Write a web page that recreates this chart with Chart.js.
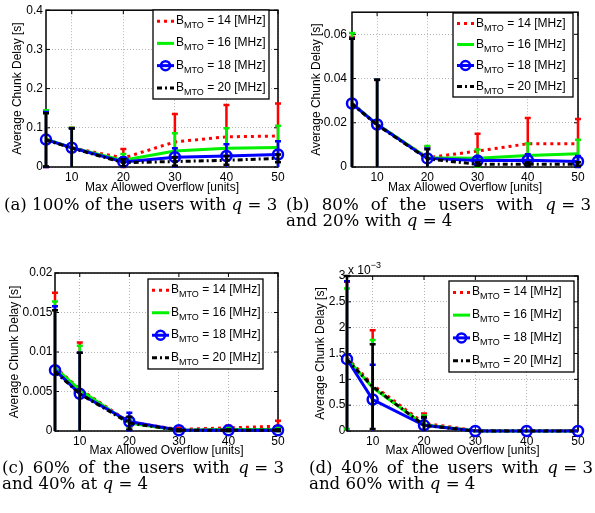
<!DOCTYPE html>
<html>
<head>
<meta charset="utf-8">
<script src="https://cdn.jsdelivr.net/npm/chart.js@4.4.1/dist/chart.umd.min.js"></script>
<style>
html, body { margin: 0; padding: 0; background: #fff; }
body { position: relative; width: 595px; height: 513px; overflow: hidden; }
canvas { position: absolute; }
.cap { position: absolute; font-family: "DejaVu Serif", serif; font-size: 16.6px; line-height: 16px; color: #000; white-space: nowrap; }
.cap .l1 { text-align: justify; text-align-last: justify; }
.m { display: inline-block; }
</style>
</head>
<body>
<canvas id="chartA" width="297" height="196" style="left:0;top:0"></canvas>
<canvas id="chartB" width="298" height="196" style="left:297px;top:0"></canvas>
<canvas id="chartC" width="297" height="201" style="left:0;top:258px"></canvas>
<canvas id="chartD" width="298" height="201" style="left:297px;top:258px"></canvas>

<div class="cap" style="left:4px;top:197px">(a) 100% of the users with <span class="m"><i>q</i> = 3</span></div>
<div class="cap" style="left:286px;top:197px;width:305px">
  <div class="l1">(b) 80% of the users with <span class="m"><i>q</i> = 3</span></div>
  <div>and 20% with <span class="m"><i>q</i> = 4</span></div>
</div>
<div class="cap" style="left:2px;top:460px;width:282px">
  <div class="l1">(c) 60% of the users with <span class="m"><i>q</i> = 3</span></div>
  <div>and 40% at <span class="m"><i>q</i> = 4</span></div>
</div>
<div class="cap" style="left:309px;top:460px;width:284px">
  <div class="l1">(d) 40% of the users with <span class="m"><i>q</i> = 3</span></div>
  <div>and 60% with <span class="m"><i>q</i> = 4</span></div>
</div>

<script>
const overflowUnits = [5, 10, 20, 30, 40, 50];
const xTickValues = [10, 20, 30, 40, 50];
const bandwidths = [14, 16, 18, 20];

// (a) 100% of the users with q = 3   (rows: 14, 16, 18, 20 MHz)
const delayA = [
  [0.071, 0.049, 0.023, 0.064, 0.077, 0.079],
  [0.071, 0.049, 0.017, 0.041, 0.048, 0.050],
  [0.070, 0.049, 0.013, 0.025, 0.028, 0.032],
  [0.069, 0.048, 0.011, 0.014, 0.017, 0.022]
];
const errA = [
  [0.071, 0.051, 0.023, 0.071, 0.081, 0.083],
  [0.074, 0.051, 0.016, 0.045, 0.051, 0.055],
  [0.070, 0.050, 0.012, 0.023, 0.030, 0.034],
  [0.068, 0.050, 0.009, 0.011, 0.011, 0.010]
];
const yTicksA = [0, 0.1, 0.2, 0.3, 0.4];

// (b) 80% q = 3, 20% q = 4
const delayB = [
  [0.0288, 0.0193, 0.0042, 0.0072, 0.0105, 0.0105],
  [0.0288, 0.0193, 0.0042, 0.0040, 0.0052, 0.0060],
  [0.0287, 0.0192, 0.0039, 0.0029, 0.0031, 0.0025],
  [0.0285, 0.0190, 0.0037, 0.0012, 0.0012, 0.0013]
];
const errB = [
  [0.0300, 0.0200, 0.0050, 0.0078, 0.0117, 0.0112],
  [0.0318, 0.0202, 0.0053, 0.0039, 0.0054, 0.0063],
  [0.0293, 0.0203, 0.0045, 0.0016, 0.0027, 0.0025],
  [0.0295, 0.0205, 0.0043, 0.0008, 0.0008, 0.0008]
];
const yTicksB = [0, 0.02, 0.04, 0.06];

// (c) 60% q = 3, 40% q = 4
const delayC = [
  [0.0081, 0.0053, 0.0011, 0.0002, 0.0004, 0.0006],
  [0.0080, 0.0052, 0.0010, 0.0001, 0.0002, 0.0002],
  [0.0077, 0.0047, 0.0012, 0.0001, 0.0001, 0.0001],
  [0.0075, 0.0047, 0.0010, 0.0001, 0.0001, 0.0001]
];
const errC = [
  [0.0094, 0.0059, 0.0006, 0.0002, 0.0003, 0.0007],
  [0.0084, 0.0056, 0.0005, 0.0001, 0.0002, 0.0002],
  [0.0081, 0.0052, 0.0011, 0.0001, 0.0001, 0.0001],
  [0.0078, 0.0052, 0.0008, 0.0001, 0.0001, 0.0001]
];
const yTicksC = [0, 0.005, 0.01, 0.015, 0.02];

// (d) 40% q = 3, 60% q = 4
const delayD = [
  [1.42e-3, 0.89e-3, 0.15e-3, 0.01e-3, 0.01e-3, 0.01e-3],
  [1.40e-3, 0.84e-3, 0.12e-3, 0, 0, 0],
  [1.39e-3, 0.61e-3, 0.11e-3, 0, 0, 0],
  [1.38e-3, 0.86e-3, 0.11e-3, 0, 0, 0]
];
const errD = [
  [1.47e-3, 1.06e-3, 0.19e-3, 0, 0, 0],
  [1.36e-3, 0.92e-3, 0.18e-3, 0, 0, 0],
  [1.51e-3, 0.67e-3, 0.14e-3, 0, 0, 0],
  [1.62e-3, 0.82e-3, 0.16e-3, 0, 0, 0]
];
const yTicksD = [0, 0.5e-3, 1e-3, 1.5e-3, 2e-3, 2.5e-3, 3e-3];

const SERIES_STYLE = [
  { color: '#ff0000', dash: [3, 4], marker: false },
  { color: '#00f000', dash: [], marker: false },
  { color: '#0000ff', dash: [], marker: true },
  { color: '#000000', dash: [5, 3, 2, 3], marker: false }
];
const FONT = { family: '"Liberation Sans", Arial, sans-serif', size: 12 };

// matlab style error bars, drawn just before each series so later series cover earlier ones
const errorBarPlugin = {
  id: 'errorBars',
  beforeDatasetDraw(chart, args) {
    const ds = chart.data.datasets[args.index];
    if (!ds.errors) return;
    const { ctx, scales: { x, y } } = chart;
    ctx.save();
    ctx.strokeStyle = ds.borderColor;
    ctx.lineWidth = 2.5;
    ctx.beginPath();
    ds.data.forEach((p, i) => {
      const e = ds.errors[i];
      if (!e) return;
      const hi = p.y + e, lo = p.y - e;
      const px = x.getPixelForValue(p.x);
      const top = y.getPixelForValue(Math.min(hi, y.max));
      const bot = y.getPixelForValue(Math.max(lo, y.min));
      ctx.moveTo(px, top); ctx.lineTo(px, bot);
      if (hi <= y.max) { ctx.moveTo(px - 3, top); ctx.lineTo(px + 3, top); }
      if (lo >= y.min) { ctx.moveTo(px - 3, bot); ctx.lineTo(px + 3, bot); }
    });
    ctx.stroke();
    ctx.restore();
  }
};

// axes box with inward ticks, under the data
const framePlugin = {
  id: 'frame',
  beforeDatasetsDraw(chart) {
    const { ctx, chartArea: a, scales: { x, y } } = chart;
    ctx.save();
    ctx.strokeStyle = '#000';
    ctx.lineWidth = 1;
    ctx.beginPath();
    x.ticks.forEach(t => {
      const px = x.getPixelForValue(t.value);
      ctx.moveTo(px, a.bottom); ctx.lineTo(px, a.bottom - 4);
      ctx.moveTo(px, a.top); ctx.lineTo(px, a.top + 4);
    });
    y.ticks.forEach(t => {
      const py = y.getPixelForValue(t.value);
      ctx.moveTo(a.left, py); ctx.lineTo(a.left + 4, py);
      ctx.moveTo(a.right, py); ctx.lineTo(a.right - 4, py);
    });
    ctx.stroke();
    ctx.lineWidth = 1.5;
    ctx.strokeRect(a.left, a.top, a.right - a.left, a.bottom - a.top);
    ctx.restore();
  }
};

// boxed legend with B_MTO subscript
const boxLegendPlugin = {
  id: 'boxLegend',
  afterDraw(chart, args, opts) {
    if (!opts || opts.width == null) return;
    const ctx = chart.ctx;
    const { left, top, width, height } = opts;
    ctx.save();
    ctx.fillStyle = '#fff';
    ctx.fillRect(left, top, width, height);
    ctx.strokeStyle = '#000';
    ctx.lineWidth = 1.3;
    ctx.strokeRect(left, top, width, height);
    const rowH = height / 4;
    chart.data.datasets.forEach((ds, k) => {
      const cy = top + rowH * (k + 0.5);
      ctx.strokeStyle = ds.borderColor;
      ctx.lineWidth = 3;
      ctx.setLineDash(ds.borderDash || []);
      ctx.beginPath();
      ctx.moveTo(left + 4, cy); ctx.lineTo(left + 21, cy);
      ctx.stroke();
      ctx.setLineDash([]);
      if (ds.pointRadius > 0) {
        ctx.lineWidth = 2.5;
        ctx.beginPath();
        ctx.arc(left + 12.5, cy, 4.5, 0, Math.PI * 2);
        ctx.stroke();
      }
      ctx.fillStyle = '#000';
      ctx.textBaseline = 'alphabetic';
      let tx = left + 23;
      ctx.font = '12px ' + FONT.family;
      ctx.fillText('B', tx, cy + 3);
      tx += ctx.measureText('B').width;
      ctx.font = '9px ' + FONT.family;
      ctx.fillText('MTO', tx, cy + 7);
      tx += ctx.measureText('MTO').width;
      ctx.font = '12px ' + FONT.family;
      ctx.fillText(' = ' + ds.bw + ' [MHz]', tx, cy + 3);
    });
    ctx.restore();
  }
};

// "x 10^-3" multiplier above the y axis
const exponentPlugin = {
  id: 'exponent',
  afterDraw(chart, args, opts) {
    if (!opts || !opts.power) return;
    const { ctx, chartArea: a } = chart;
    ctx.save();
    ctx.fillStyle = '#000';
    ctx.font = '12px ' + FONT.family;
    ctx.fillText('x 10', a.left + 1, a.top - 2);
    const w = ctx.measureText('x 10').width;
    ctx.font = '9px ' + FONT.family;
    ctx.fillText(opts.power, a.left + 1 + w, a.top - 8);
    ctx.restore();
  }
};

function makeDatasets(delay, err) {
  return bandwidths.map((b, k) => {
    const st = SERIES_STYLE[k];
    return {
      label: 'B_MTO = ' + b + ' [MHz]',
      bw: b,
      data: overflowUnits.map((u, i) => ({ x: u, y: delay[k][i] })),
      errors: err[k],
      borderColor: st.color,
      backgroundColor: st.color,
      borderWidth: 3,
      borderDash: st.dash,
      pointRadius: st.marker ? 5 : 0,
      pointBorderWidth: 2.5,
      pointBorderColor: st.color,
      pointBackgroundColor: 'rgba(255,255,255,0)',
      tension: 0,
      fill: false,
      clip: 10,
      order: 3 - k
    };
  });
}

function makePanel(id, p) {
  new Chart(document.getElementById(id), {
    type: 'line',
    data: { datasets: makeDatasets(p.delay, p.err) },
    plugins: [errorBarPlugin, framePlugin, boxLegendPlugin, exponentPlugin],
    options: {
      responsive: false,
      animation: false,
      events: [],
      layout: { padding: { left: 0, top: p.padTop, right: p.padRight, bottom: 0 } },
      plugins: {
        legend: { display: false },
        tooltip: { enabled: false },
        boxLegend: p.legend,
        exponent: { power: p.power }
      },
      scales: {
        x: {
          type: 'linear', min: 5, max: 50,
          afterBuildTicks: s => { s.ticks = xTickValues.map(v => ({ value: v })); },
          afterFit: s => { s.height = p.xHeight; },
          ticks: { padding: 3, color: '#000', font: FONT, maxRotation: 0, autoSkip: false },
          grid: { color: '#b4b4b4', lineWidth: 1, drawTicks: false },
          border: { display: false, dash: [1, 2] },
          title: { display: true, text: 'Max Allowed Overflow [units]', color: '#000', font: FONT, padding: { top: 0, bottom: 1 } }
        },
        y: {
          type: 'linear', min: 0, max: p.yMax,
          afterBuildTicks: s => { s.ticks = p.yTicks.map(v => ({ value: v })); },
          afterFit: s => { s.width = p.yWidth; },
          ticks: { padding: p.tickPad, color: '#000', font: FONT, callback: p.fmt },
          grid: { color: '#b4b4b4', lineWidth: 1, drawTicks: false },
          border: { display: false, dash: [1, 2] },
          title: { display: true, text: 'Average Chunk Delay [s]', color: '#000', font: FONT, padding: { top: p.titlePad, bottom: 0 } }
        }
      }
    }
  });
}

const plain = v => String(+v.toFixed(4));

makePanel('chartA', {
  delay: delayA, err: errA, yTicks: yTicksA, yMax: 0.4, fmt: plain,
  padTop: 10, padRight: 19, xHeight: 29, yWidth: 46, tickPad: 3, titlePad: 10,
  legend: { left: 153, top: 10, width: 116, height: 89 }
});
makePanel('chartB', {
  delay: delayB, err: errB, yTicks: yTicksB, yMax: 0.07, fmt: plain,
  padTop: 10, padRight: 17, xHeight: 29, yWidth: 55, tickPad: 5, titlePad: 12,
  legend: { left: 156, top: 13, width: 120, height: 84 }
});
makePanel('chartC', {
  delay: delayC, err: errC, yTicks: yTicksC, yMax: 0.02, fmt: plain,
  padTop: 15, padRight: 19, xHeight: 28, yWidth: 55, tickPad: 2.5, titlePad: 7,
  legend: { left: 148, top: 21, width: 115, height: 90 }
});
makePanel('chartD', {
  delay: delayD, err: errD, yTicks: yTicksD, yMax: 3e-3, fmt: v => String(+(v * 1000).toFixed(2)),
  padTop: 18, padRight: 17, xHeight: 28, yWidth: 50, tickPad: 1.5, titlePad: 16,
  legend: { left: 152, top: 23, width: 125, height: 91 }, power: '\u22123'
});
</script>
</body>
</html>
